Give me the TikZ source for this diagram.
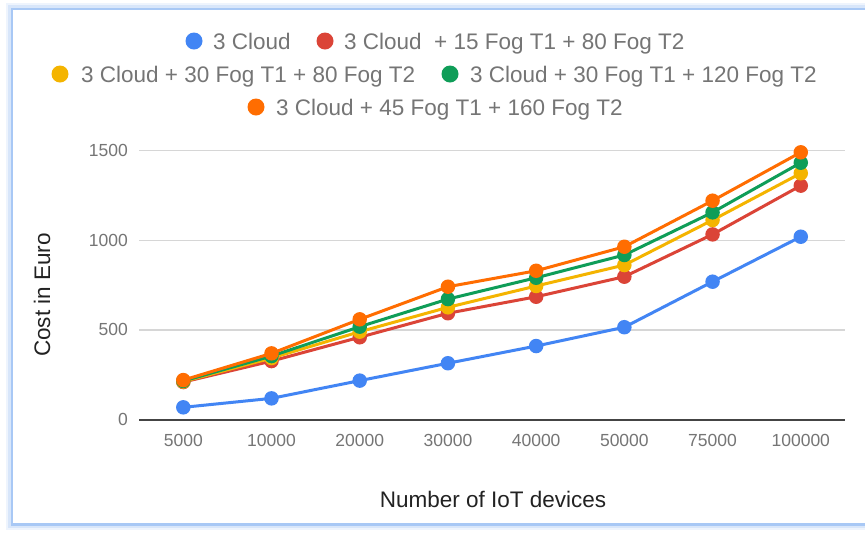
\documentclass[tikz,border=0pt]{standalone}
\usepackage{fontspec}
\setmainfont{Liberation Sans}
\definecolor{gblue}{HTML}{4285F4}
\definecolor{gred}{HTML}{DB4437}
\definecolor{gyellow}{HTML}{F4B400}
\definecolor{ggreen}{HTML}{0F9D58}
\definecolor{gorange}{HTML}{FF6D01}
\definecolor{tickgray}{HTML}{757575}
\definecolor{titlegray}{HTML}{222222}
\definecolor{gridgray}{HTML}{D6D6D6}
\definecolor{axisgray}{HTML}{444444}
\definecolor{frameblue}{HTML}{A8C8F5}
\begin{document}
\begin{tikzpicture}[x=1pt,y=-1pt,
  legtext/.style={anchor=base west, text=tickgray, font=\fontsize{22.5}{26}\selectfont, inner sep=0pt},
  legdot/.style={circle, fill=#1, minimum size=17pt, inner sep=0pt},
  ticklab/.style={text=tickgray, font=\fontsize{17.5}{20}\selectfont, inner sep=0pt},
  axtitle/.style={text=titlegray, font=\fontsize{22.5}{26}\selectfont, inner sep=0pt},
  gridline/.style={draw=gridgray, line width=1.5pt},
  series/.style={draw=#1, line width=3pt, line join=round, line cap=round},
  datadot/.style={circle, fill=#1, minimum size=14.5pt, inner sep=0pt},
]
\useasboundingbox (0,0) rectangle (865,542);
\fill[white] (0,0) rectangle (865,542);
\begin{scope}
\clip (0,0) rectangle (865,542);
% panel frame with soft glow
\draw[frameblue!20, line width=14pt] (880,10) -- (13,10) -- (13,523) -- (880,523);
\draw[frameblue!45, line width=10pt] (880,10) -- (13,10) -- (13,523) -- (880,523);
\draw[frameblue, line width=5pt] (880,10) -- (13,10) -- (13,523) -- (880,523);
\fill[white] (13.3,10) rectangle (880,522.7);
\end{scope}

% legend
\node[legdot=gblue] (l1) at (194,41) {};
\node[legtext] (t1) at (213,49) {3 Cloud};
\node[legdot=gred] (l2) at (325,41) {};
\node[legtext] (t2) at (344,49) {3 Cloud~ + 15 Fog T1 + 80 Fog T2};
\node[legdot=gyellow] (l3) at (60,74) {};
\node[legtext] (t3) at (81,82) {3 Cloud + 30 Fog T1 + 80 Fog T2};
\node[legdot=ggreen] (l4) at (450,74) {};
\node[legtext] (t4) at (470,82) {3 Cloud + 30 Fog T1 + 120 Fog T2};
\node[legdot=gorange] (l5) at (256,107) {};
\node[legtext] (t5) at (276,115) {3 Cloud + 45 Fog T1 + 160 Fog T2};

% axis titles
\node[axtitle, rotate=90, anchor=base] (ytitle) at (50,295) {Cost in Euro};
\node[axtitle, anchor=base] (xtitle) at (493,507.5) {Number of IoT devices};

\begin{scope}[shift={(0,419.5)}, y=0.1792pt]
  % grid
  \foreach \g in {500,1000,1500} {
    \draw[gridline] (139,\g) -- (845,\g);
    \node[ticklab, anchor=east] (y\g) at (128,\g) {\g};
  }
  \node[ticklab, anchor=east] (y0) at (128,0) {0};
  \draw[draw=axisgray, line width=2pt] (139,0) -- (845,0);
  % x labels
  \foreach \lab [count=\i] in {5000,10000,20000,30000,40000,50000,75000,100000} {
    \node[ticklab] (x\i) at ({183.3+88.21*(\i-1)},-119) {\lab};
  }
  % series
  \foreach \s/\c/\vals in {
      b/gblue/{68,118,217,314,410,515,769,1020},
      r/gred/{209,326,459,593,685,797,1033,1305},
      y/gyellow/{212,343,490,626,745,862,1113,1374},
      g/ggreen/{215,354,518,672,791,918,1156,1433},
      o/gorange/{220,369,559,741,830,964,1221,1491}} {
    \foreach \v [count=\i] in \vals {
      \coordinate (\s\i) at ({183.3+88.21*(\i-1)},\v);
    }
    \draw[series=\c] (\s1) \foreach \i in {2,...,8} {-- (\s\i)};
    \foreach \i in {1,...,8} {
      \node[datadot=\c] (\s d\i) at (\s\i) {};
    }
  }
\end{scope}
\end{tikzpicture}
\end{document}
